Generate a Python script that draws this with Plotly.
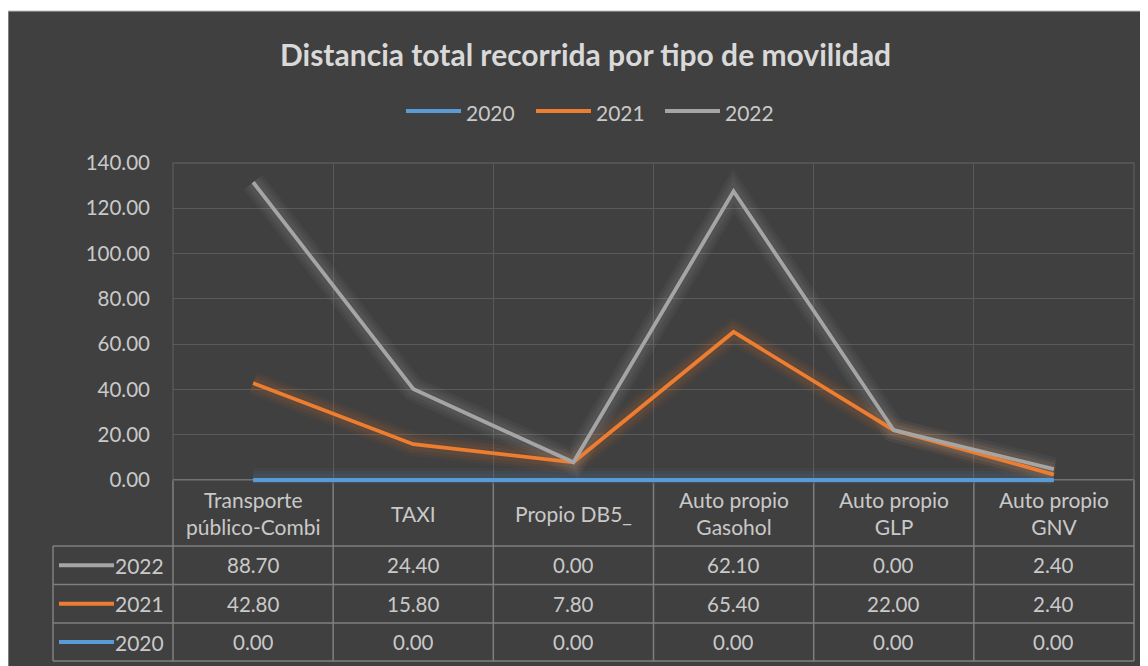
import numpy as np
import plotly.graph_objects as go

# ---------------- data ----------------
categories = ["Transporte<br>público-Combi", "TAXI", "Propio DB5_",
              "Auto propio<br>Gasohol", "Auto propio<br>GLP", "Auto propio<br>GNV"]
years = ["2020", "2021", "2022"]
v2020 = [0.00, 0.00, 0.00, 0.00, 0.00, 0.00]
v2021 = [42.80, 15.80, 7.80, 65.40, 22.00, 2.40]
v2022 = [88.70, 24.40, 0.00, 62.10, 0.00, 2.40]
y_ticks = [0, 20, 40, 60, 80, 100, 120, 140]

series = {"2020": v2020, "2021": v2021, "2022": v2022}
colors = {"2020": "#5b9bd5", "2021": "#ed7d31", "2022": "#a5a5a5"}
glow_rgb = {"2020": "91,155,213", "2021": "237,125,49", "2022": "190,190,190"}

# stacked line values
stacked = {}
acc = np.zeros(len(categories))
for yr in years:
    acc = acc + np.array(series[yr])
    stacked[yr] = acc.copy()

OFF = 8  # page body margin
W, H = 1148 - OFF, 666 - OFF
def px(x): return (x - OFF) / W
def py(y): return 1 - (y - OFF) / H

FONT = "Lato"
TXT = "#c9c9c9"
GRID = "#5a5a5a"
TBL = "#7f7f7f"

# plot area geometry (page pixels)
L, R, T, Z = 173, 1134, 163, 480
unit = (Z - T) / 140.0
ymin = -1.6
B = Z - ymin * unit

fig = go.Figure()

xs = list(range(len(categories)))
for yr in years:
    for w, a in [(24, 0.05), (18, 0.06), (12, 0.07)]:
        fig.add_trace(go.Scatter(x=xs, y=stacked[yr], mode="lines",
                                 line=dict(color=f"rgba({glow_rgb[yr]},{a})", width=w),
                                 showlegend=False, hoverinfo="skip"))
for yr in years:
    fig.add_trace(go.Scatter(x=xs, y=stacked[yr], mode="lines", name=yr,
                             line=dict(color=colors[yr], width=3.8),
                             showlegend=False))

shapes = []
# dark chart background
shapes.append(dict(type="rect", xref="paper", yref="paper", x0=px(8), x1=px(1150),
                   y0=py(668), y1=py(11), fillcolor="#404040",
                   line=dict(color="#bdbdbd", width=1), layer="below"))
# plot area border
shapes.append(dict(type="rect", xref="paper", yref="paper", x0=px(L), x1=px(R),
                   y0=py(Z), y1=py(T), line=dict(color=GRID, width=1.3),
                   layer="below"))

# table geometry
ncat = len(categories)
cw = (R - L) / ncat
bounds = [L + i * cw for i in range(ncat + 1)]
hdr_bot = 546
rows_y = [546, 584.5, 623, 661]
LEGL = 53
for xb in bounds:
    shapes.append(dict(type="line", xref="paper", yref="paper", x0=px(xb), x1=px(xb),
                       y0=py(Z), y1=py(rows_y[-1]), line=dict(color=TBL, width=1.5),
                       layer="below"))
shapes.append(dict(type="line", xref="paper", yref="paper", x0=px(LEGL), x1=px(LEGL),
                   y0=py(rows_y[0]), y1=py(rows_y[-1]), line=dict(color=TBL, width=1.5),
                   layer="below"))
shapes.append(dict(type="line", xref="paper", yref="paper", x0=px(L), x1=px(R),
                   y0=py(Z), y1=py(Z), line=dict(color=TBL, width=1.5), layer="below"))
for yy in rows_y:
    shapes.append(dict(type="line", xref="paper", yref="paper", x0=px(LEGL), x1=px(R),
                       y0=py(yy), y1=py(yy), line=dict(color=TBL, width=1.5),
                       layer="below"))

annotations = []
# title
annotations.append(dict(text="<b>Distancia total recorrida por tipo de movilidad</b>",
                        x=px(585), y=py(54), xref="paper", yref="paper",
                        showarrow=False, font=dict(family=FONT, size=30, color="#d9d9d9"),
                        xanchor="center", yanchor="middle"))
# legend (top)
leg_x = {"2020": 406, "2021": 536, "2022": 665}
for yr in years:
    x0 = leg_x[yr]
    shapes.append(dict(type="line", xref="paper", yref="paper", x0=px(x0), x1=px(x0 + 55),
                       y0=py(111), y1=py(111), line=dict(color=colors[yr], width=4)))
    annotations.append(dict(text=yr, x=px(x0 + 58), y=py(112), xref="paper", yref="paper",
                            showarrow=False, xanchor="left", yanchor="middle",
                            font=dict(family=FONT, size=21, color=TXT)))
# header category labels
for i, cat in enumerate(categories):
    annotations.append(dict(text=cat, x=px(L + (i + 0.5) * cw), y=py((Z + hdr_bot) / 2),
                            xref="paper", yref="paper", showarrow=False,
                            xanchor="center", yanchor="middle",
                            font=dict(family=FONT, size=21, color=TXT)))
# table rows (2022, 2021, 2020)
row_order = ["2022", "2021", "2020"]
for r, yr in enumerate(row_order):
    yc = (rows_y[r] + rows_y[r + 1]) / 2
    shapes.append(dict(type="line", xref="paper", yref="paper", x0=px(59), x1=px(114),
                       y0=py(yc), y1=py(yc), line=dict(color=colors[yr], width=4)))
    annotations.append(dict(text=yr, x=px(166), y=py(yc), xref="paper", yref="paper",
                            showarrow=False, xanchor="right", yanchor="middle",
                            font=dict(family=FONT, size=21, color=TXT)))
    for i, v in enumerate(series[yr]):
        annotations.append(dict(text=f"{v:.2f}", x=px(L + (i + 0.5) * cw), y=py(yc),
                                xref="paper", yref="paper", showarrow=False,
                                xanchor="center", yanchor="middle",
                                font=dict(family=FONT, size=20.5, color=TXT)))

fig.update_layout(
    width=W, height=H,
    margin=dict(l=0, r=0, t=0, b=0, autoexpand=False),
    paper_bgcolor="white",
    plot_bgcolor="rgba(0,0,0,0)",
    showlegend=False,
    shapes=shapes,
    annotations=annotations,
    xaxis=dict(domain=[px(L), px(R)], range=[-0.5, ncat - 0.5],
               tickmode="array", tickvals=[i - 0.5 for i in range(ncat + 1)],
               showticklabels=False, showgrid=True, gridcolor=GRID, gridwidth=1.3,
               zeroline=False, ticks="", automargin=False),
    yaxis=dict(domain=[py(B), py(T)], range=[ymin, 140],
               tickmode="array", tickvals=y_ticks,
               ticktext=[f"{t:.2f}" for t in y_ticks],
               showgrid=True, gridcolor=GRID, gridwidth=1.3, zeroline=False,
               ticks="", ticklabelstandoff=22, automargin=False,
               tickfont=dict(family=FONT, size=20.5, color=TXT)),
)

fig.write_html("out.html")
